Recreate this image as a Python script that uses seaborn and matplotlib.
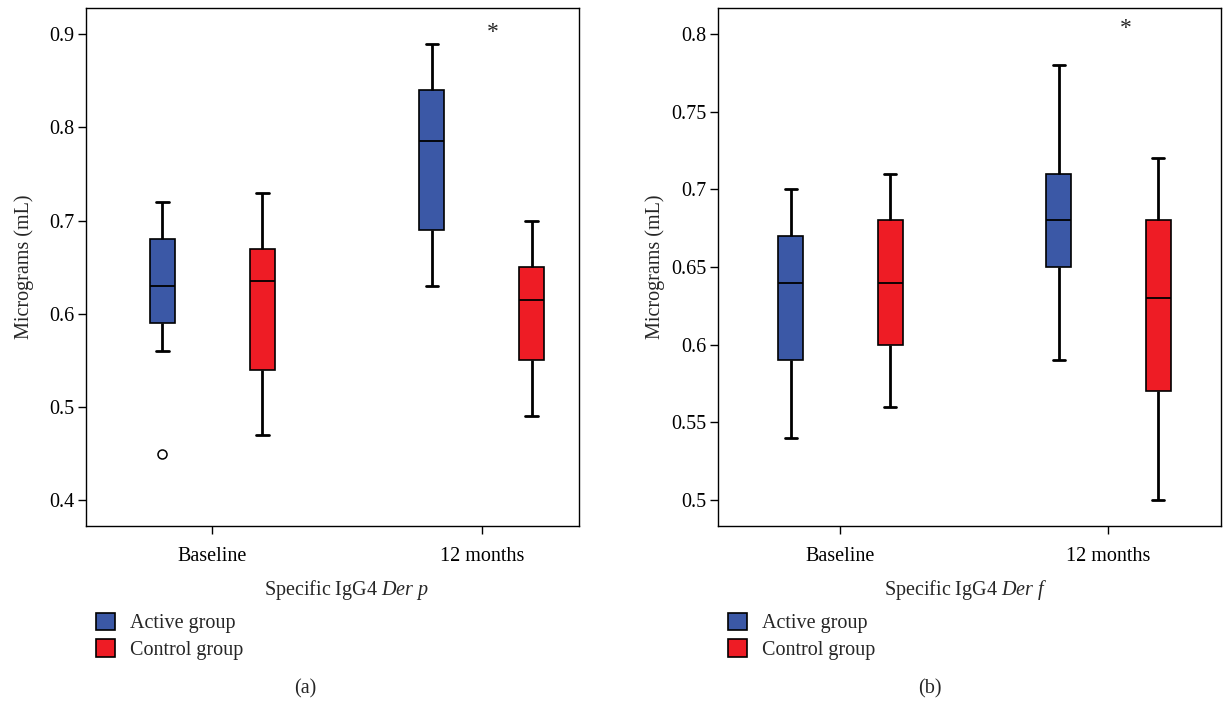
import numpy as np
import pandas as pd
import matplotlib
matplotlib.use("Agg")
import matplotlib.pyplot as plt
import matplotlib.ticker as mticker
import seaborn as sns

# ---------------- data (five-number summaries) ----------------
times = ["Baseline", "12 months"]
groups = ["Active group", "Control group"]

# Panel (a): Specific IgG4 Der p
a_active_lo = [0.56, 0.63]
a_active_q1 = [0.59, 0.69]
a_active_med = [0.63, 0.785]
a_active_q3 = [0.68, 0.84]
a_active_hi = [0.72, 0.89]
a_active_fliers = [[0.45], []]

a_control_lo = [0.47, 0.49]
a_control_q1 = [0.54, 0.55]
a_control_med = [0.635, 0.615]
a_control_q3 = [0.67, 0.65]
a_control_hi = [0.73, 0.70]
a_control_fliers = [[], []]

# Panel (b): Specific IgG4 Der f
b_active_lo = [0.54, 0.59]
b_active_q1 = [0.59, 0.65]
b_active_med = [0.64, 0.68]
b_active_q3 = [0.67, 0.71]
b_active_hi = [0.70, 0.78]
b_active_fliers = [[], []]

b_control_lo = [0.56, 0.50]
b_control_q1 = [0.60, 0.57]
b_control_med = [0.64, 0.63]
b_control_q3 = [0.68, 0.68]
b_control_hi = [0.71, 0.72]
b_control_fliers = [[], []]

a_yticks = [0.4, 0.5, 0.6, 0.7, 0.8, 0.9]
b_yticks = [0.5, 0.55, 0.6, 0.65, 0.7, 0.75, 0.8]

a_xlabel = "Specific IgG4 $\\it{Der\\ p}$"
b_xlabel = "Specific IgG4 $\\it{Der\\ f}$"
ylabel = "Micrograms (mL)"
star_time = "12 months"   # significance marker

BLUE = "#3B58A6"
RED = "#EE1C25"


def values_from_summary(lo, q1, med, q3, hi, fliers):
    """Sample whose linear-interpolated quartiles equal the summary."""
    if len(fliers) == 0:
        return [lo, q1, med, q3, hi]
    # one low flier: n = 9, quartiles at positions 2, 4, 6
    return list(fliers) + [lo, q1, q1, med, q3, q3, hi, hi]


def build_frame(active, control):
    rows = []
    for gname, summ in zip(groups, [active, control]):
        lo, q1, med, q3, hi, fl = summ
        for i, t in enumerate(times):
            for v in values_from_summary(lo[i], q1[i], med[i], q3[i], hi[i], fl[i]):
                rows.append({"time": t, "group": gname, "value": v})
    return pd.DataFrame(rows)


df_a = build_frame(
    (a_active_lo, a_active_q1, a_active_med, a_active_q3, a_active_hi, a_active_fliers),
    (a_control_lo, a_control_q1, a_control_med, a_control_q3, a_control_hi, a_control_fliers),
)
df_b = build_frame(
    (b_active_lo, b_active_q1, b_active_med, b_active_q3, b_active_hi, b_active_fliers),
    (b_control_lo, b_control_q1, b_control_med, b_control_q3, b_control_hi, b_control_fliers),
)

# ---------------- style ----------------
sns.set_style("ticks")
plt.rcParams["font.family"] = ["Liberation Serif", "DejaVu Serif"]
plt.rcParams["mathtext.fontset"] = "custom"
plt.rcParams["mathtext.rm"] = "Liberation Serif"
plt.rcParams["mathtext.it"] = "Liberation Serif:italic"
FS = 14.5

fig = plt.figure(figsize=(12.29, 7.01), dpi=100)
W, H = 1229.0, 701.0


def px_axes(l, t, r, b):
    return fig.add_axes([l / W, 1 - b / H, (r - l) / W, (b - t) / H])


ax_a = px_axes(86, 8, 579, 526)
ax_b = px_axes(718, 8, 1221, 526)

panels = [
    (ax_a, df_a, a_yticks, (0.3724, 0.9282), (-0.469, 1.361), a_xlabel, 0.529, "(a)", 305,
     (0.0415, 0.9016)),
    (ax_b, df_b, b_yticks, (0.4833, 0.8167), (-0.457, 1.42), b_xlabel, 0.492, "(b)", 929.5,
     (0.065, 0.8033)),
]

for ax, df, yt, ylim, xlim, xl, xlx, cap, capx, star in panels:
    sns.boxplot(
        data=df, x="time", y="value", hue="group",
        order=times, hue_order=groups, palette=[BLUE, RED],
        width=0.742, gap=0.75, whis=1.5, linecolor="black", linewidth=1.2,
        saturation=1, ax=ax,
        whiskerprops=dict(linewidth=2.0),
        capprops=dict(linewidth=2.0),
        medianprops=dict(linewidth=1.3),
        flierprops=dict(marker="o", markerfacecolor="white", markeredgecolor="black",
                        markersize=6.5, markeredgewidth=1.1),
    )
    ax.set_xlim(*xlim)
    ax.set_ylim(*ylim)
    ax.set_yticks(yt)
    ax.yaxis.set_major_formatter(mticker.FuncFormatter(lambda v, p: f"{v:g}"))
    for s in ax.spines.values():
        s.set_visible(True)
        s.set_linewidth(1.0)
        s.set_color("black")
    ax.tick_params(axis="both", direction="out", length=5.5, width=1.0, colors="black",
                   labelsize=FS)
    ax.tick_params(axis="y", pad=3)
    ax.tick_params(axis="x", pad=9.5)
    ax.set_xlabel(xl, fontsize=FS)
    ax.xaxis.set_label_coords(xlx, -0.1012)
    ax.set_ylabel(ylabel, fontsize=FS)
    ax.yaxis.set_label_coords(-0.105, 0.5)

    xi = times.index(star_time)
    ax.text(xi + star[0], star[1], "*", ha="center", va="center", fontsize=17)

    sns.move_legend(
        ax, loc="upper left", bbox_to_anchor=(0.0203, -0.167), frameon=False, title=None,
        fontsize=FS, handlelength=0.95, handleheight=0.95, handletextpad=0.75,
        labelspacing=0.3, borderpad=0, borderaxespad=0,
    )
    fig.text(capx / W, 1 - 689 / H, cap, ha="center", va="center", fontsize=FS)

fig.savefig("out.png", dpi=100)
